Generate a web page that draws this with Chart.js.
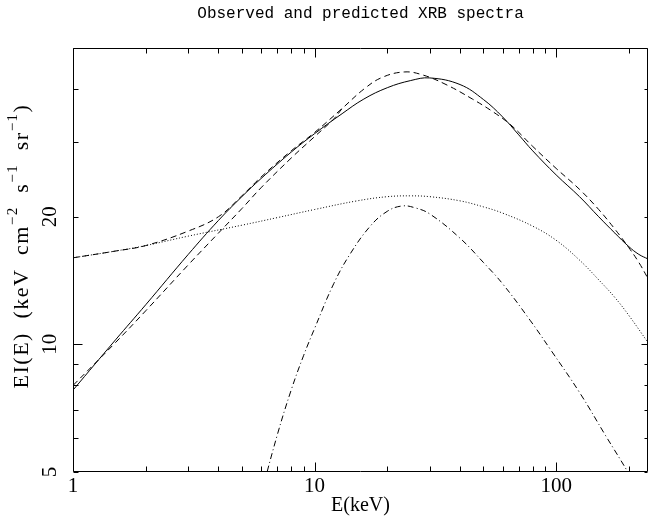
<!DOCTYPE html>
<html>
<head>
<meta charset="utf-8">
<script src="https://cdn.jsdelivr.net/npm/chart.js@4"></script>
<style>
  html, body { margin: 0; padding: 0; background: #fff; }
  canvas { display: block; }
</style>
</head>
<body>
<canvas id="xrbChart" width="649" height="520"></canvas>
<script>
// E (keV) / EI(E) pairs, one pair of arrays per curve
const solidE = [1, 1.5, 2, 3, 4, 5, 6, 8, 10, 13, 16, 20, 25, 30, 40, 50, 60, 70, 80, 100, 125, 150, 175, 200, 220, 240];
const solidV = [7.8, 10.25, 12.4, 16.3, 19.6, 22.3, 24.6, 28.4, 31.4, 35.0, 37.9, 40.3, 41.9, 42.5, 41.0, 37.8, 34.4, 31.2, 28.6, 25.1, 22.3, 20.0, 18.3, 17.0, 16.3, 15.9];

const dashE = [1, 1.5, 2, 3, 4, 5, 6, 8, 10, 13, 16, 19, 23.5, 28, 35, 45, 55, 65, 80, 100, 125, 150, 175, 200, 220, 240];
const dashV = [16.0, 16.6, 17.1, 18.5, 20.0, 22.4, 24.8, 28.6, 31.6, 36.0, 40.0, 42.6, 43.9, 43.2, 41.0, 37.9, 35.3, 32.9, 29.3, 26.0, 23.2, 20.8, 18.7, 16.9, 15.6, 14.3];

const dash2E = [1, 1.5, 2, 3, 4, 5, 6, 8, 10, 12, 13];
const dash2V = [8.0, 10.1, 12.0, 15.4, 18.3, 20.9, 23.4, 27.5, 30.9, 34.0, 36.0];

const dotE = [1, 1.5, 2, 3, 5, 7, 10, 15, 20, 25, 30, 40, 50, 60, 80, 100, 125, 150, 175, 200, 240];
const dotV = [16.0, 16.6, 17.1, 18.0, 19.1, 19.9, 20.8, 21.8, 22.3, 22.4, 22.3, 21.8, 21.1, 20.4, 19.0, 17.6, 15.8, 14.2, 12.9, 11.7, 10.1];

const dashDotE = [5, 6, 7, 8, 9, 10, 12, 14, 17, 20, 23, 26, 30, 40, 50, 60, 78, 95, 125, 160, 200, 240];
const dashDotV = [2.9, 4.4, 6.1, 7.8, 9.4, 10.9, 13.9, 16.3, 19.0, 20.6, 21.2, 21.0, 20.3, 17.8, 15.6, 13.9, 11.4, 9.7, 7.7, 6.1, 4.95, 4.1];

const xTicks = [1, 2, 3, 4, 5, 6, 7, 8, 9, 10, 20, 30, 40, 50, 60, 70, 80, 90, 100, 200];
const xLabels = [1, 10, 100];
const yTicks = [5, 6, 7, 8, 9, 10, 20, 30, 40, 50];
const yLabels = [5, 10, 20];
const yMajor = [10];

const toPoints = (es, vs) => es.map((e, i) => ({ x: e, y: vs[i] }));

const curve = (data, dash) => ({
  data,
  borderColor: '#000',
  borderWidth: 1,
  borderDash: dash,
  pointRadius: 0,
  fill: false,
  tension: 0.4
});

// frame, inward ticks on all four sides, rotated y labels and y title
const frameTicks = {
  id: 'frameTicks',
  afterDraw(chart) {
    const { ctx, chartArea: a, scales: { x, y } } = chart;
    const L = a.left + 0.5, R = a.right - 0.5, T = a.top + 0.5, B = a.bottom - 0.5;
    ctx.save();
    ctx.strokeStyle = '#000';
    ctx.lineWidth = 1;
    ctx.setLineDash([]);
    ctx.beginPath();
    ctx.rect(L, T, R - L, B - T);

    xTicks.forEach(v => {
      const px = Math.round(x.getPixelForValue(v)) + 0.5;
      const len = xLabels.includes(v) ? 9 : 5;
      ctx.moveTo(px, B); ctx.lineTo(px, B - len);
      ctx.moveTo(px, T); ctx.lineTo(px, T + len);
    });
    yTicks.forEach(v => {
      const py = Math.round(y.getPixelForValue(v)) + 0.5;
      const major = yMajor.includes(v);
      ctx.moveTo(L, py); ctx.lineTo(L + (major ? 9 : 5), py);
      ctx.moveTo(R, py); ctx.lineTo(R - (major ? 6 : 3), py);
    });
    ctx.stroke();

    ctx.fillStyle = '#000';
    ctx.font = '21px "Liberation Serif"';
    ctx.textAlign = 'center';
    ctx.textBaseline = 'middle';
    yLabels.forEach(v => {
      ctx.save();
      ctx.translate(50, y.getPixelForValue(v));
      ctx.rotate(-Math.PI / 2);
      ctx.fillText(String(v), 0, 0);
      ctx.restore();
    });

    // y axis title with superscripts
    const parts = [['EI(E) (keV cm', false], ['\u22122', true], [' s', false], ['\u22121', true], [' sr', false], ['\u22121', true], [')', false]];
    const mainFont = '22px "Liberation Serif"';
    const supFont = '15px "Liberation Serif"';
    const gap = 1.5, spaceGap = 8;
    const glyphs = [];
    let total = 0;
    parts.forEach(([txt, sup]) => {
      ctx.font = sup ? supFont : mainFont;
      for (const ch of txt) {
        const w = ctx.measureText(ch).width + (ch === ' ' ? spaceGap : gap);
        glyphs.push({ ch, sup, w });
        total += w;
      }
    });
    ctx.translate(22, 246);
    ctx.rotate(-Math.PI / 2);
    ctx.textAlign = 'left';
    let cx = -total / 2;
    glyphs.forEach(g => {
      ctx.font = g.sup ? supFont : mainFont;
      ctx.fillText(g.ch, cx, g.sup ? -9 : 0);
      cx += g.w;
    });
    ctx.restore();
  }
};

new Chart(document.getElementById('xrbChart'), {
  type: 'line',
  data: {
    datasets: [
      curve(toPoints(dotE, dotV), [1, 2]),
      curve(toPoints(dashDotE, dashDotV), [6, 3, 1, 3]),
      curve(toPoints(dash2E, dash2V), [6, 4]),
      curve(toPoints(dashE, dashV), [6, 4]),
      curve(toPoints(solidE, solidV), [])
    ]
  },
  options: {
    responsive: false,
    animation: false,
    devicePixelRatio: 1,
    layout: { padding: { left: 0, right: 1, top: 0, bottom: 0 } },
    plugins: {
      legend: { display: false },
      tooltip: { enabled: false },
      title: {
        display: true,
        fullSize: false,
        text: 'Observed and predicted XRB spectra',
        color: '#000',
        font: { family: 'Liberation Mono', size: 16, weight: 'normal', lineHeight: 1.2 },
        padding: { top: 4, bottom: 24.8 }
      }
    },
    scales: {
      x: {
        type: 'logarithmic',
        min: 1,
        max: 240,
        grid: { display: false, drawTicks: false },
        border: { display: false },
        afterBuildTicks: s => { s.ticks = xTicks.map(v => ({ value: v })); },
        afterFit: s => { s.height = 48; },
        ticks: {
          autoSkip: false,
          minRotation: 0,
          maxRotation: 0,
          padding: 2,
          color: '#000',
          font: { family: 'Liberation Serif', size: 21 },
          callback: v => xLabels.includes(v) ? String(v) : ''
        },
        title: {
          display: true,
          text: 'E(keV)',
          color: '#000',
          font: { family: 'Liberation Serif', size: 20 },
          padding: { top: 0, bottom: 2 }
        }
      },
      y: {
        type: 'logarithmic',
        min: 5,
        max: 50,
        grid: { display: false, drawTicks: false },
        border: { display: false },
        afterBuildTicks: s => { s.ticks = yTicks.map(v => ({ value: v })); },
        afterFit: s => { s.width = 73; },
        ticks: { display: false }
      }
    }
  },
  plugins: [frameTicks]
});
</script>
</body>
</html>
